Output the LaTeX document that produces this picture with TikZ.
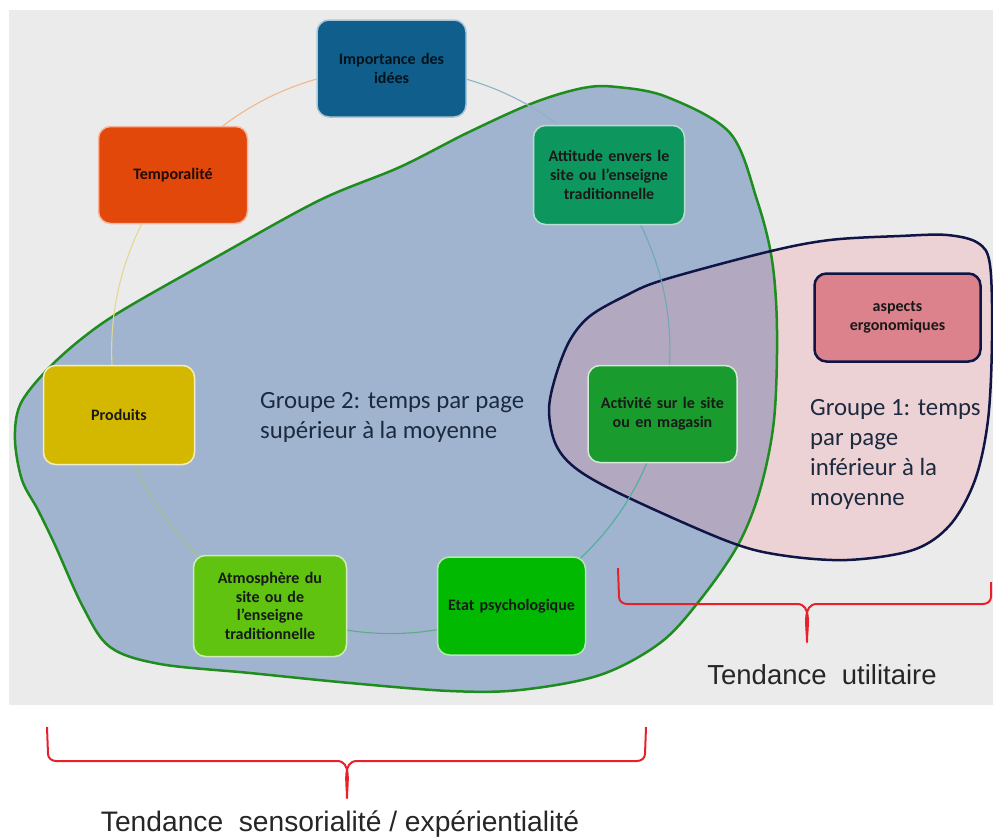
\documentclass[tikz,border=0pt]{standalone}
\usepackage{fontspec}
\setmainfont{Carlito}
\newfontfamily\arialf{Liberation Sans}
\definecolor{bggray}{HTML}{EBEBEB}
\definecolor{bluef}{HTML}{A0B4D0}
\definecolor{pinkf}{HTML}{EDD2D5}
\definecolor{overf}{HTML}{B2A8BF}
\definecolor{greenl}{HTML}{1E8C1E}
\definecolor{navyl}{HTML}{0F1545}
\definecolor{impc}{HTML}{0F5E8C}
\definecolor{temc}{HTML}{E1480A}
\definecolor{attc}{HTML}{0E965F}
\definecolor{proc}{HTML}{D4B800}
\definecolor{actc}{HTML}{199B2D}
\definecolor{atmc}{HTML}{5FC30F}
\definecolor{etac}{HTML}{00B900}
\definecolor{aspc}{HTML}{DC828C}
\definecolor{grptext}{HTML}{1C2A40}
\definecolor{bracered}{HTML}{E8202A}
\definecolor{arcA}{HTML}{8DB3C7}
\definecolor{arcB}{HTML}{6FA8B8}
\definecolor{arcC}{HTML}{4FB09A}
\definecolor{arcD}{HTML}{5AAE80}
\definecolor{arcE}{HTML}{9CC48A}
\definecolor{arcF}{HTML}{E2D890}
\definecolor{arcG}{HTML}{F2B88C}
\pgfdeclarelayer{bg}
\pgfdeclarelayer{mid}
\pgfsetlayers{bg,mid,main}
\begin{document}
\begin{tikzpicture}[x=1pt,y=-1pt,
  box/.style={rounded corners=12pt, line width=1.5pt, align=center,
    font=\bfseries\fontsize{16}{18.7}\selectfont, text=black!90,
    inner sep=0pt, text width=149pt, minimum height=97pt},
  grp/.style={align=left, inner sep=0pt, text=grptext,
    font=\fontsize{24.8}{30}\selectfont},
  tend/.style={inner sep=0pt, font=\arialf\fontsize{27.5}{32}\selectfont, text=black!85},
  brace/.style={draw=bracered, line width=2pt, line join=round},
  arcl/.style={line width=1.1pt, bend left=25.7, looseness=0.9}
]
\useasboundingbox (0,0) rectangle (993,838);

% boxes
\node[box, fill=impc, draw=impc!35!white, text=impc!20!black] (imp) at (391.5,68.5) {Importance des\\idées};
\node[box, fill=temc, draw=temc!40!white, text=temc!15!black] (tem) at (173,175) {Temporalité};
\node[box, fill=attc, draw=attc!30!white, text width=151pt, minimum height=99pt] (att) at (609,175) {Attitude envers le\\site ou l’enseigne\\traditionnelle};
\node[box, fill=proc, draw=proc!25!white, text width=151pt, minimum height=99pt] (pro) at (119,415) {Produits};
\node[box, fill=actc, draw=actc!20!white] (act) at (662.5,414) {Activité sur le site\\ou en magasin};
\node[box, fill=etac, draw=etac!30!white, text width=148pt, minimum height=98pt] (eta) at (511.5,606) {Etat psychologique};
\node[box, fill=atmc, draw=atmc!30!white, text width=153pt, minimum height=101pt] (atm) at (270,606) {Atmosphère du\\site ou de\\l’enseigne\\traditionnelle};
\node[box, fill=aspc, draw=navyl, line width=2.5pt, text width=166pt, minimum height=88pt] (asp) at (897.5,317.5) {aspects\\ergonomiques};

% group labels (base anchor = baseline of last line)
\node[grp, anchor=base west] (g2) at (260,438) {Groupe 2: temps par page\\supérieur à la moyenne};
\node[grp, anchor=base west] (g1) at (810,505) {Groupe 1: temps\\par page\\inférieur à la\\moyenne};

% tendance labels
\node[tend, anchor=base] (tu) at (822,684) {Tendance\ \ utilitaire};
\node[tend, anchor=base, font=\arialf\fontsize{28.2}{32}\selectfont] (ts) at (340,831) {Tendance\ \ sensorialité / expérientialité};

% braces
\draw[brace] (618,568) -- (619,597) to[out=-90,in=180] (627,604) -- (797,604)
  to[out=0,in=90] (807,642) to[out=90,in=180] (817,604) -- (983,604)
  to[out=0,in=-90] (991,597) -- (991,582);
\draw[brace] (47,727) -- (48,754) to[out=-90,in=180] (56,761) -- (337,761)
  to[out=0,in=90] (347,798) to[out=90,in=180] (357,761) -- (637,761)
  to[out=0,in=-90] (645,754) -- (646,727);

% ring arcs
\begin{pgfonlayer}{mid}
\draw[arcl, draw=arcA] (imp.center) to (att.center);
\draw[arcl, draw=arcB] (att.center) to (act.center);
\draw[arcl, draw=arcC] (act.center) to (eta.center);
\draw[arcl, draw=arcD] (eta.center) to (atm.center);
\draw[arcl, draw=arcE] (atm.center) to (pro.center);
\draw[arcl, draw=arcF] (pro.center) to (tem.center);
\draw[arcl, draw=arcG] (tem.center) to (imp.center);
\end{pgfonlayer}

\begin{pgfonlayer}{bg}
\fill[bggray] (9,10) rectangle (993,705);
\path[save path=\bluep] plot[smooth cycle, tension=0.55] coordinates {
 (617,87) (667,97) (730,133) (757,200) (772,260) (777,330) (774,420) (760,490)
 (738,545) (700,600) (660,643) (600,675) (520,690) (450,691) (350,683) (250,673)
 (160,664) (110,647) (83,607) (55,545) (38,510) (22,480) (15,440) (20,405)
 (45,372) (80,340) (123,310) (220,255) (320,200) (400,167) (467,133) (533,103) (583,88)};
\path[save path=\pinkp] plot[smooth cycle, tension=0.55] coordinates {
 (549,410) (556,375) (570,340) (590,316) (625,296) (663,280) (767,252) (830,240)
 (900,236) (947,235) (978,243) (990,265) (992,340) (988,420) (975,480) (950,525)
 (913,550) (847,560) (780,555) (727,541) (627,497) (578,470) (556,445)};
\path[use path=\bluep, fill=bluef];
\path[use path=\pinkp, fill=pinkf];
\begin{scope}
\path[use path=\pinkp, clip];
\path[use path=\bluep, fill=overf];
\end{scope}
\path[use path=\bluep, draw=greenl, line width=2.5pt];
\path[use path=\pinkp, draw=navyl, line width=2.5pt];
\end{pgfonlayer}
\end{tikzpicture}
\end{document}
